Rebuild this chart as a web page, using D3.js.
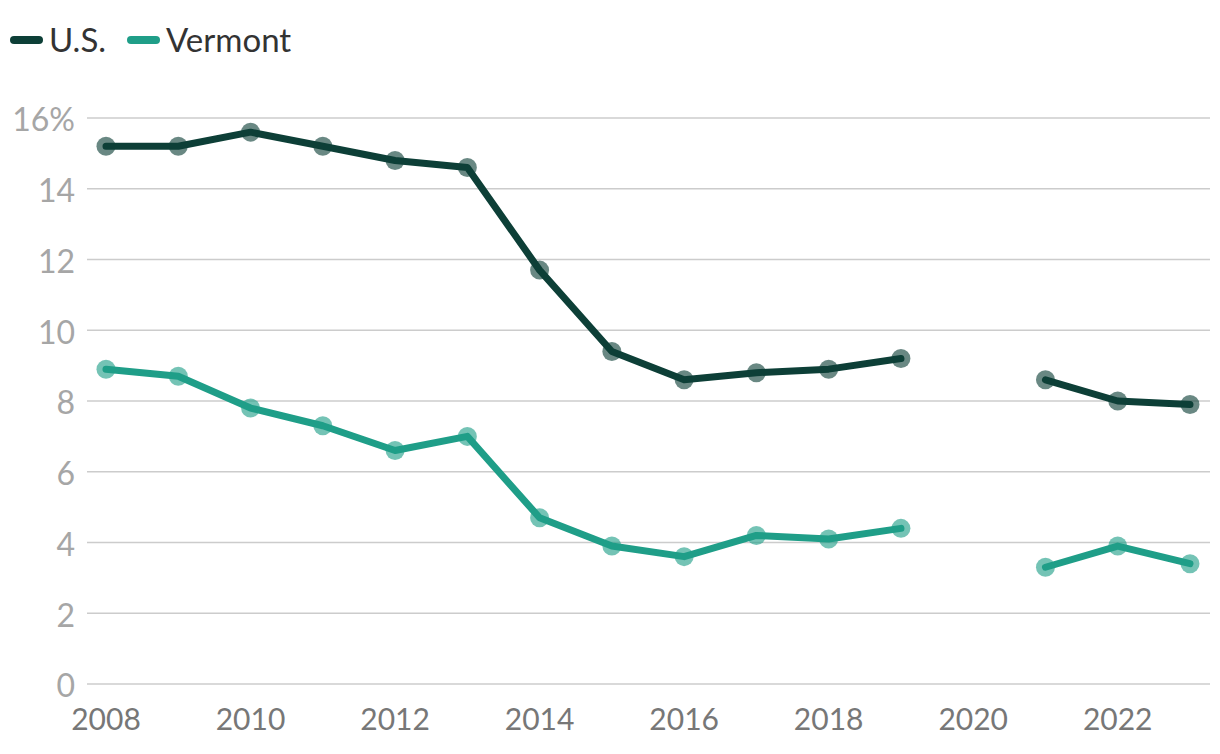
<!DOCTYPE html>
<html><head><meta charset="utf-8">
<script src="https://cdn.jsdelivr.net/npm/d3@7"></script>
<style>
html,body{margin:0;padding:0;background:#fff;}
text{font-family:"Lato","Noto Sans",sans-serif;}
</style></head>
<body>
<svg id="chart" width="1220" height="754"></svg>
<script>
const years = [2008,2009,2010,2011,2012,2013,2014,2015,2016,2017,2018,2019,2020,2021,2022,2023];
const usValues = [15.2,15.2,15.6,15.2,14.8,14.6,11.7,9.4,8.6,8.8,8.9,9.2,null,8.6,8.0,7.9];
const vermontValues = [8.9,8.7,7.8,7.3,6.6,7.0,4.7,3.9,3.6,4.2,4.1,4.4,null,3.3,3.9,3.4];
const yTicks = [0,2,4,6,8,10,12,14,16];
const xTicks = [2008,2010,2012,2014,2016,2018,2020,2022];
const seriesNames = ["U.S.","Vermont"];
const seriesColors = ["#0d3f37","#1f9e88"];

const svg = d3.select("#chart");
const x = d3.scaleLinear().domain([2008,2023]).range([106,1190]);
const y = d3.scaleLinear().domain([0,16]).range([684,118]);

// gridlines
svg.append("g").selectAll("line").data(yTicks).join("line")
  .attr("x1",87).attr("x2",1210)
  .attr("y1",d=>y(d)).attr("y2",d=>y(d))
  .attr("stroke","#cccccc").attr("stroke-width",1.6);

// y labels
svg.append("g").selectAll("text").data(yTicks).join("text")
  .attr("x",75).attr("y",d=>y(d)).attr("dy","0.42em")
  .attr("text-anchor","end").attr("fill","#a6a6a6")
  .attr("font-size",32)
  .text(d=>d===16? "16%" : d);

// x labels
svg.append("g").selectAll("text").data(xTicks).join("text")
  .attr("x",d=>x(d)).attr("y",730)
  .attr("text-anchor","middle").attr("fill","#777777")
  .attr("font-size",30)
  .text(d=>d);

const series = [usValues, vermontValues];
series.forEach((vals,i)=>{
  const pts = years.map((yr,j)=>({yr, v: vals[j]}));
  const g = svg.append("g");
  g.selectAll("circle").data(pts.filter(p=>p.v!==null)).join("circle")
    .attr("cx",p=>x(p.yr)).attr("cy",p=>y(p.v)).attr("r",9.5)
    .attr("fill",seriesColors[i]).attr("fill-opacity",0.62);
  const line = d3.line().defined(p=>p.v!==null).x(p=>x(p.yr)).y(p=>y(p.v));
  g.append("path").datum(pts).attr("d",line)
    .attr("fill","none").attr("stroke",seriesColors[i])
    .attr("stroke-width",7).attr("stroke-linejoin","round").attr("stroke-linecap","round");
});

// legend
const legend = svg.append("g");
const legX = [14,131];
seriesNames.forEach((n,i)=>{
  legend.append("line").attr("x1",legX[i]).attr("x2",legX[i]+25)
    .attr("y1",40).attr("y2",40).attr("stroke",seriesColors[i])
    .attr("stroke-width",8).attr("stroke-linecap","round");
  legend.append("text").attr("x",legX[i]+35).attr("y",40).attr("dy","0.36em")
    .attr("fill","#333333").attr("font-size",33).text(n);
});
</script>
</body></html>
